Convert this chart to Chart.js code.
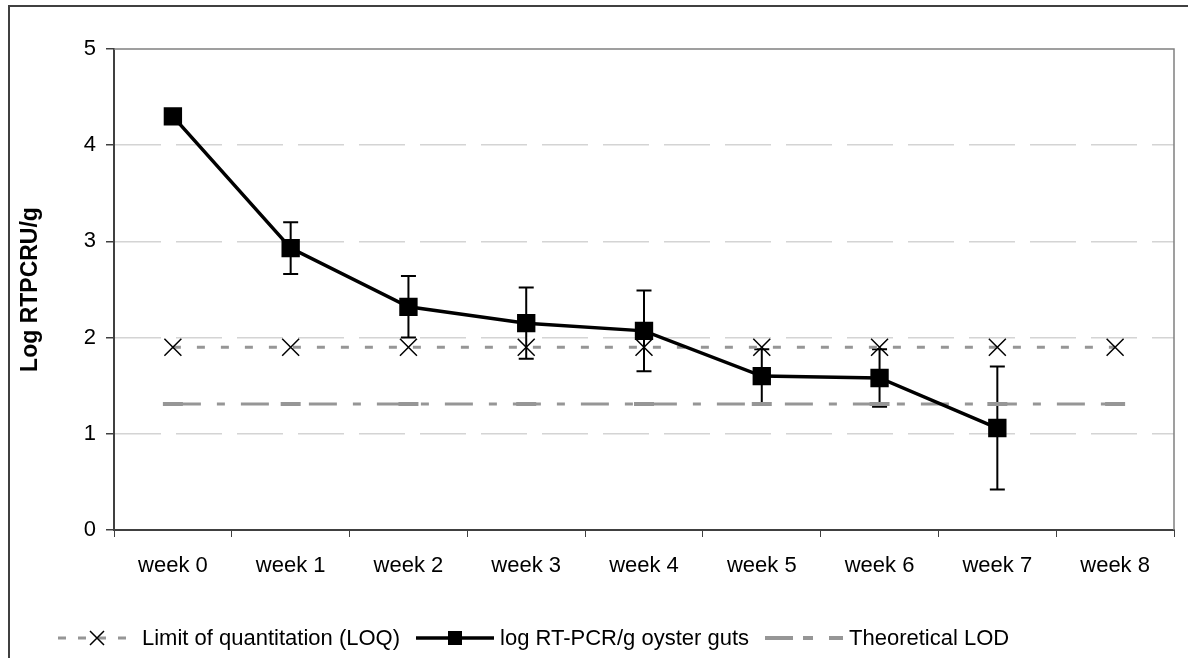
<!DOCTYPE html>
<html>
<head>
<meta charset="utf-8">
<script src="https://cdn.jsdelivr.net/npm/chart.js@4"></script>
<style>
  html, body { margin: 0; padding: 0; background: #fff; }
  body { width: 1188px; height: 658px; position: relative; overflow: hidden; font-family: "Liberation Sans", Arial, sans-serif; }
  #frame { position: absolute; left: 8px; top: 5px; width: 1300px; height: 800px; border: 2px solid #404040; box-sizing: border-box; }
  #chartBox { position: absolute; left: 0; top: 0; width: 1188px; height: 658px; }
  #legend { position: absolute; left: 58px; top: 625px; display: flex; align-items: center; font-size: 22px; line-height: 26px; color: #000; white-space: nowrap; }
  #legend .item { display: flex; align-items: center; margin-right: 16px; }
  #legend svg { margin-right: 6px; }
</style>
</head>
<body>
<div id="frame"></div>
<div id="chartBox"><canvas id="oysterChart" width="1188" height="658"></canvas></div>
<div id="legend">
  <span class="item">
    <svg width="78" height="20"><line x1="0" y1="10" x2="78" y2="10" stroke="#969696" stroke-width="3" stroke-dasharray="8 12"/><path d="M32 3 L46 17 M46 3 L32 17" stroke="#000" stroke-width="1.5"/></svg>
    Limit of quantitation (LOQ)
  </span>
  <span class="item">
    <svg width="78" height="20"><line x1="0" y1="10" x2="78" y2="10" stroke="#000" stroke-width="3.5"/><rect x="32" y="3" width="14" height="14" fill="#000"/></svg>
    log RT-PCR/g oyster guts
  </span>
  <span class="item">
    <svg width="78" height="20"><line x1="0" y1="10" x2="78" y2="10" stroke="#969696" stroke-width="4" stroke-dasharray="28 10 10 16"/></svg>
    Theoretical LOD
  </span>
</div>
<script>
// Data
const weeks = ["week 0", "week 1", "week 2", "week 3", "week 4", "week 5", "week 6", "week 7", "week 8"];
const loqValues = [1.9, 1.9, 1.9, 1.9, 1.9, 1.9, 1.9, 1.9, 1.9];
const oysterValues = [4.30, 2.93, 2.32, 2.15, 2.07, 1.60, 1.58, 1.06, null];
const oysterErrors = [0.03, 0.27, 0.32, 0.37, 0.42, 0.28, 0.30, 0.64, null];
const lodValues = [1.31, 1.31, 1.31, 1.31, 1.31, 1.31, 1.31, 1.31, 1.31];
const yMin = 0;
const yMax = 5;
const yStep = 1;

const font = "'Liberation Sans', Arial, sans-serif";

// Error bars under the markers
const errorBars = {
  id: "errorBars",
  beforeDatasetsDraw(chart) {
    const { ctx, scales: { x, y } } = chart;
    ctx.save();
    ctx.strokeStyle = "#000";
    ctx.lineWidth = 2;
    oysterValues.forEach((v, i) => {
      const e = oysterErrors[i];
      if (v == null || e == null) return;
      const px = x.getPixelForValue(i);
      const top = y.getPixelForValue(v + e);
      const bot = y.getPixelForValue(v - e);
      ctx.beginPath();
      ctx.moveTo(px, top);
      ctx.lineTo(px, bot);
      ctx.moveTo(px - 7.5, top);
      ctx.lineTo(px + 7.5, top);
      ctx.moveTo(px - 7.5, bot);
      ctx.lineTo(px + 7.5, bot);
      ctx.stroke();
    });
    ctx.restore();
  }
};

// Grey plot-area border on top and right
const plotFrame = {
  id: "plotFrame",
  beforeDatasetsDraw(chart) {
    const { ctx, chartArea: a } = chart;
    ctx.save();
    ctx.strokeStyle = "#808080";
    ctx.lineWidth = 1.5;
    ctx.beginPath();
    ctx.moveTo(a.left, a.top);
    ctx.lineTo(a.right, a.top);
    ctx.lineTo(a.right, a.bottom);
    ctx.stroke();
    ctx.restore();
  }
};

new Chart(document.getElementById("oysterChart"), {
  type: "line",
  data: {
    labels: weeks,
    datasets: [
      {
        label: "Limit of quantitation (LOQ)",
        data: loqValues,
        order: 1,
        borderColor: "#969696",
        borderWidth: 3,
        borderDash: [8, 16],
        pointStyle: "crossRot",
        pointRadius: 12,
        pointBorderColor: "#000",
        pointBorderWidth: 1.5,
        fill: false,
        tension: 0
      },
      {
        label: "log RT-PCR/g oyster guts",
        data: oysterValues,
        order: 0,
        borderColor: "#000",
        backgroundColor: "#000",
        borderWidth: 3.5,
        pointStyle: "rect",
        pointRadius: 10.5,
        pointBackgroundColor: "#000",
        pointBorderColor: "#000",
        fill: false,
        tension: 0
      },
      {
        label: "Theoretical LOD",
        data: lodValues,
        order: 2,
        borderColor: "#969696",
        borderWidth: 3,
        borderDash: [28, 16, 8, 16],
        pointStyle: "line",
        pointRadius: 10,
        pointBorderColor: "#969696",
        pointBorderWidth: 4,
        fill: false,
        tension: 0
      }
    ]
  },
  options: {
    responsive: false,
    animation: false,
    events: [],
    layout: { padding: { left: 0, top: 49, right: 11, bottom: 0 } },
    plugins: {
      legend: { display: false },
      tooltip: { enabled: false }
    },
    scales: {
      x: {
        offset: true,
        afterFit(scale) { scale.height = 128; },
        grid: { offset: true, drawOnChartArea: false, drawTicks: true, tickLength: 7, tickColor: "#404040" },
        border: { color: "#404040", width: 2 },
        ticks: { color: "#000", font: { family: font, size: 22 }, padding: 16, maxRotation: 0 }
      },
      y: {
        min: yMin,
        max: yMax,
        afterFit(scale) { scale.width = 114; },
        grid: {
          color: ctx => (ctx.tick && (ctx.tick.value === yMin || ctx.tick.value === yMax)) ? "rgba(0,0,0,0)" : "#d4d4d4",
          lineWidth: 1.5,
          tickLength: 8,
          tickColor: "#404040"
        },
        border: { color: "#404040", width: 2, dash: [46, 15] },
        ticks: { stepSize: yStep, color: "#000", font: { family: font, size: 22 }, padding: 10 },
        title: {
          display: true,
          text: "Log RTPCRU/g",
          color: "#000",
          font: { family: font, size: 23, weight: "bold" },
          padding: { top: 17, bottom: 0 }
        }
      }
    }
  },
  plugins: [errorBars, plotFrame]
});
</script>
</body>
</html>
